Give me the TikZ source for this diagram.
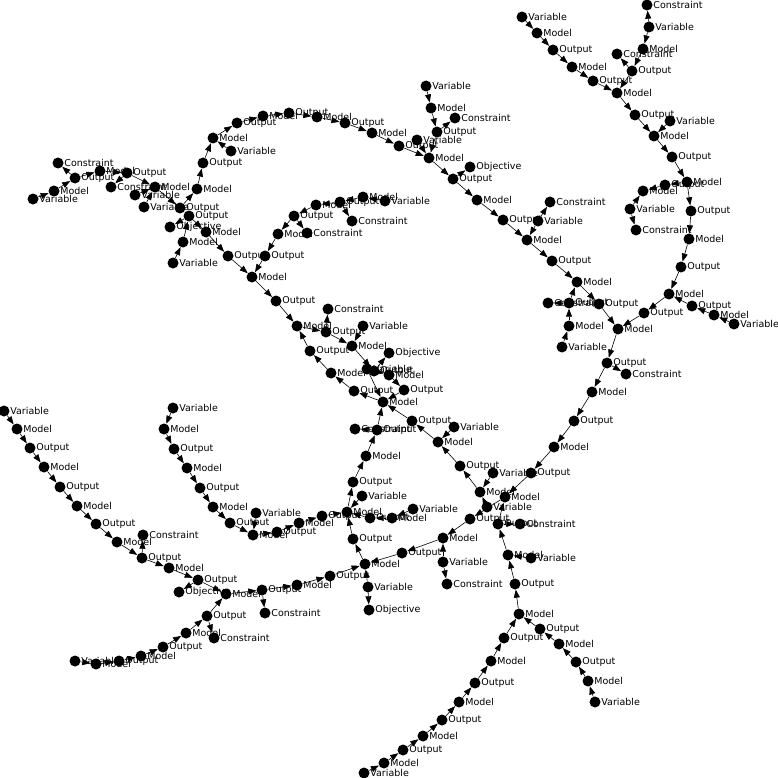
\documentclass[tikz,border=0pt]{standalone}
\usepackage{fontspec}
\newfontfamily\labelfont{DejaVu Sans}
\usetikzlibrary{arrows.meta}

\begin{document}
\begin{tikzpicture}[x=1pt, y=-1pt,
    >={Triangle[length=8pt, width=6pt]},
    vertex/.style={circle, fill=black, inner sep=0pt, minimum size=11pt},
    every label/.style={font=\labelfont\fontsize{9.5}{10}\selectfont, inner sep=0.5pt},
    modelpt/.style={vertex, label=right:Model},
    outputpt/.style={vertex, label=right:Output},
    variablept/.style={vertex, label=right:Variable},
    constraintpt/.style={vertex, label=right:Constraint},
    objectivept/.style={vertex, label=right:Objective}]
\useasboundingbox[fill=white] (0,0) rectangle (778,778);
\node[variablept] (a1) at (522,17) {};
\node[modelpt] (a2) at (537,33) {};
\node[outputpt] (a3) at (553,50) {};
\node[modelpt] (a4) at (572,67) {};
\node[outputpt] (a5) at (593,81) {};
\node[modelpt] (a6) at (617,93) {};
\node[outputpt] (a7) at (635,115) {};
\node[variablept] (a8) at (670,121) {};
\node[modelpt] (a9) at (654,136) {};
\node[outputpt] (a10) at (672,157) {};
\node[modelpt] (a11) at (687,182) {};
\node[outputpt] (a12) at (691,211) {};
\node[modelpt] (a13) at (689,239) {};
\node[constraintpt] (b1) at (647,5) {};
\node[variablept] (b2) at (649,27) {};
\node[modelpt] (b3) at (643,49) {};
\node[constraintpt] (b4) at (617,54) {};
\node[outputpt] (b5) at (632,71) {};
\node[modelpt] (c2) at (643,191) {};
\node[outputpt] (c1) at (665,185) {};
\node[variablept] (c3) at (630,209) {};
\node[constraintpt] (c4) at (636,230) {};
\node[variablept] (d1) at (426,86) {};
\node[modelpt] (d2) at (431,108) {};
\node[constraintpt] (d3) at (455,118) {};
\node[outputpt] (d4) at (437,132) {};
\node[outputpt] (d6) at (399,146) {};
\node[variablept] (d5) at (417,140) {};
\node[modelpt] (d7) at (429,158) {};
\node[objectivept] (d8) at (470,167) {};
\node[outputpt] (d9) at (453,179) {};
\node[modelpt] (d10) at (477,200) {};
\node[modelpt] (e1) at (372,133) {};
\node[outputpt] (e2) at (345,123) {};
\node[modelpt] (e3) at (317,117) {};
\node[outputpt] (e4) at (289,113) {};
\node[modelpt] (e5) at (263,116) {};
\node[outputpt] (e6) at (237,123) {};
\node[modelpt] (e7) at (213,138) {};
\node[variablept] (e8) at (231,151) {};
\node[outputpt] (e9) at (203,163) {};
\node[modelpt] (e10) at (197,189) {};
\node[constraintpt] (g1) at (58,163) {};
\node[outputpt] (g2) at (75,178) {};
\node[modelpt] (g3) at (100,171) {};
\node[outputpt] (g4) at (127,173) {};
\node[modelpt] (g5) at (54,191) {};
\node[variablept] (g6) at (33,199) {};
\node[constraintpt] (g7) at (111,187) {};
\node[modelpt] (g8) at (155,187) {};
\node[variablept] (g9) at (135,195) {};
\node[variablept] (g10) at (144,207) {};
\node[outputpt] (g11) at (180,208) {};
\node[outputpt] (g12) at (189,216) {};
\node[objectivept] (g13) at (170,227) {};
\node[modelpt] (g14) at (206,232) {};
\node[modelpt] (g15) at (183,242) {};
\node[variablept] (g16) at (173,263) {};
\node[modelpt] (f1) at (363,197) {};
\node[variablept] (f2) at (385,201) {};
\node[outputpt] (f3) at (340,202) {};
\node[constraintpt] (f4) at (352,221) {};
\node[modelpt] (f5) at (316,205) {};
\node[outputpt] (f6) at (294,216) {};
\node[constraintpt] (f7) at (307,233) {};
\node[modelpt] (f8) at (278,234) {};
\node[outputpt] (f9) at (265,256) {};
\node[outputpt] (f10) at (228,256) {};
\node[modelpt] (f11) at (252,277) {};
\node[outputpt] (i1) at (276,301) {};
\node[modelpt] (i2) at (297,326) {};
\node[constraintpt] (i3) at (328,309) {};
\node[outputpt] (i4) at (326,332) {};
\node[variablept] (i5) at (363,326) {};
\node[modelpt] (i6) at (352,346) {};
\node[outputpt] (i7) at (310,351) {};
\node[objectivept] (i8) at (389,353) {};
\node[modelpt] (i9) at (331,373) {};
\node[variablept] (x1) at (367,369) {};
\node[outputpt] (x2) at (374,371) {};
\node[modelpt] (j1) at (389,375) {};
\node[outputpt] (j2) at (404,390) {};
\node[outputpt] (i11) at (354,391) {};
\node[modelpt] (i12) at (383,402) {};
\node[outputpt] (i13) at (412,421) {};
\node[variablept] (i14) at (454,427) {};
\node[modelpt] (i15) at (438,442) {};
\node[outputpt] (i16) at (460,466) {};
\node[constraintpt] (i17c) at (355,429) {};
\node[outputpt] (i17) at (377,430) {};
\node[modelpt] (i18) at (366,456) {};
\node[outputpt] (k1) at (353,482) {};
\node[variablept] (k2) at (362,496) {};
\node[modelpt] (k3) at (347,512) {};
\node[outputpt] (k4) at (322,516) {};
\node[modelpt] (k5) at (299,523) {};
\node[outputpt] (k7) at (277,532) {};
\node[outputpt] (k10a) at (370,518) {};
\node[modelpt] (k10b) at (392,518) {};
\node[variablept] (k10v) at (413,509) {};
\node[outputpt] (k11) at (353,539) {};
\node[modelpt] (k12) at (365,564) {};
\node[variablept] (k13) at (368,587) {};
\node[objectivept] (k14) at (369,610) {};
\node[outputpt] (k15) at (330,576) {};
\node[modelpt] (k16) at (297,585) {};
\node[outputpt] (k17) at (262,590) {};
\node[constraintpt] (k19) at (265,613) {};
\node[outputpt] (k20) at (402,553) {};
\node[modelpt] (k21) at (443,538) {};
\node[variablept] (k22) at (443,562) {};
\node[constraintpt] (k23) at (447,584) {};
\node[outputpt] (m1) at (574,421) {};
\node[modelpt] (m2) at (554,447) {};
\node[variablept] (m4) at (493,473) {};
\node[outputpt] (m3) at (531,473) {};
\node[modelpt] (m5) at (480,492) {};
\node[modelpt] (m6) at (505,497) {};
\node[variablept] (m7) at (487,507) {};
\node[outputpt] (m8) at (470,519) {};
\node[outputpt] (m9) at (498,524) {};
\node[constraintpt] (m10) at (520,524) {};
\node[modelpt] (m11) at (508,555) {};
\node[variablept] (m12) at (531,558) {};
\node[outputpt] (m13) at (515,584) {};
\node[outputpt] (t1) at (503,220) {};
\node[variablept] (t2) at (538,221) {};
\node[constraintpt] (t3) at (550,202) {};
\node[modelpt] (t4) at (527,240) {};
\node[outputpt] (t5) at (552,261) {};
\node[modelpt] (t6) at (577,282) {};
\node[constraintpt] (t7) at (548,303) {};
\node[outputpt] (t8) at (569,303) {};
\node[outputpt] (t9) at (599,304) {};
\node[modelpt] (t10) at (569,326) {};
\node[variablept] (t11) at (562,347) {};
\node[modelpt] (t12) at (618,329) {};
\node[outputpt] (t13) at (607,363) {};
\node[constraintpt] (t14) at (626,374) {};
\node[modelpt] (v1) at (592,392) {};
\node[outputpt] (u0) at (681,267) {};
\node[modelpt] (u1) at (669,294) {};
\node[outputpt] (u2) at (644,313) {};
\node[outputpt] (u3) at (692,306) {};
\node[modelpt] (u4) at (714,315) {};
\node[variablept] (u5) at (734,324) {};
\node[modelpt] (q2) at (519,614) {};
\node[outputpt] (q3) at (540,629) {};
\node[modelpt] (q4) at (559,644) {};
\node[outputpt] (q5) at (576,662) {};
\node[modelpt] (q6) at (588,681) {};
\node[variablept] (q7) at (595,702) {};
\node[outputpt] (r1) at (504,638) {};
\node[modelpt] (r2) at (491,661) {};
\node[outputpt] (r3) at (475,683) {};
\node[modelpt] (r4) at (459,702) {};
\node[outputpt] (r5) at (442,720) {};
\node[modelpt] (r6) at (423,736) {};
\node[outputpt] (r7) at (403,750) {};
\node[modelpt] (r8) at (384,763) {};
\node[variablept] (r9) at (364,773) {};
\node[variablept] (n1) at (4,411) {};
\node[modelpt] (n2) at (17,429) {};
\node[outputpt] (n3) at (30,448) {};
\node[modelpt] (n4) at (44,467) {};
\node[outputpt] (n5) at (60,487) {};
\node[modelpt] (n6) at (77,506) {};
\node[outputpt] (n7) at (96,524) {};
\node[modelpt] (n8) at (117,542) {};
\node[constraintpt] (n9) at (143,535) {};
\node[outputpt] (n10) at (142,558) {};
\node[modelpt] (n11) at (169,568) {};
\node[objectivept] (n13) at (179,592) {};
\node[outputpt] (n12) at (198,580) {};
\node[modelpt] (n14) at (226,594) {};
\node[outputpt] (n15) at (207,616) {};
\node[constraintpt] (n16) at (214,638) {};
\node[modelpt] (n17) at (186,633) {};
\node[outputpt] (n18) at (163,647) {};
\node[modelpt] (n19) at (141,656) {};
\node[variablept] (n22) at (75,661) {};
\node[modelpt] (n21) at (96,664) {};
\node[outputpt] (n20) at (119,661) {};
\node[variablept] (p1) at (173,408) {};
\node[modelpt] (p2) at (164,429) {};
\node[outputpt] (p3) at (174,449) {};
\node[modelpt] (p4) at (187,468) {};
\node[outputpt] (p5) at (200,488) {};
\node[modelpt] (p6) at (213,507) {};
\node[outputpt] (p7) at (230,523) {};
\node[modelpt] (p8) at (253,535) {};
\node[variablept] (p9) at (256,513) {};
\path[->, line width=0.6pt]
(a1) edge (a2) (a2) edge (a3) (a3) edge (a4) (a4) edge (a5) (a5) edge (a6)
(a6) edge (a7) (a7) edge (a9) (a8) edge (a9) (a9) edge (a10) (a10) edge (a11)
(a11) edge (a12) (a12) edge (a13)
(b2) edge (b1) (b2) edge (b3) (b3) edge (b5) (b5) edge (b4) (b5) edge (a6)
(a11) edge (c1) (c1) edge (c2) (c3) edge (c2) (c3) edge (c4)
(d1) edge (d2) (d2) edge (d4) (d4) edge (d3) (d4) edge (d7) (d5) edge (d7) (d6) edge (d7)
(d7) edge (d9) (d9) edge (d8) (d9) edge (d10) (d10) edge (t1)
(e10) edge (e9) (e9) edge (e7) (e8) edge (e7) (e7) edge (e6) (e6) edge (e5) (e5) edge (e4)
(e4) edge (e3) (e3) edge (e2) (e2) edge (e1) (e1) edge (d6)
(g6) edge (g5) (g5) edge (g2) (g2) edge (g1) (g2) edge (g3) (g3) edge (g4) (g4) edge (g7)
(g4) edge (g8) (g9) edge (g8) (g10) edge (g8) (g8) edge (g11) (g11) edge (e10)
(g16) edge (g15) (g15) edge (g12) (g12) edge (g13) (g12) edge (g14) (g14) edge (f10)
(f2) edge (f1) (f1) edge (f3) (f3) edge (f4) (f3) edge (f5) (f5) edge (f6) (f6) edge (f7)
(f6) edge (f8) (f8) edge (f9) (f9) edge (f11) (f10) edge (f11) (f11) edge (i1)
(i1) edge (i2) (i2) edge (i4) (i4) edge (i3) (i4) edge (i6) (i5) edge (i6) (i6) edge (x2)
(x2) edge (i8) (x2) edge (j1) (j1) edge (j2) (j2) edge (i12) (x1) edge (i12)
(i13) edge (i12) (i17) edge (i12) (i12) edge (i11) (i11) edge (i9) (i9) edge (i7) (i7) edge (i2)
(i17) edge (i17c) (i18) edge (i17) (k1) edge (i18)
(i15) edge (i13) (i14) edge (i15) (i16) edge (i15) (m5) edge (i16)
(k3) edge (k1) (k2) edge (k3) (k4) edge (k3) (k5) edge (k4) (k7) edge (k5) (p8) edge (k7)
(k10v) edge (k10b) (k10b) edge (k10a) (k10a) edge (k3) (k11) edge (k3) (k12) edge (k11)
(k13) edge (k12) (k13) edge (k14) (k15) edge (k12) (k16) edge (k15) (k17) edge (k16)
(n14) edge (k17) (k17) edge (k19) (k20) edge (k12) (k21) edge (k20) (k22) edge (k21)
(k22) edge (k23) (m8) edge (k21)
(v1) edge (m1) (m1) edge (m2) (m2) edge (m3) (m3) edge (m6) (m6) edge (m8) (m4) edge (m5)
(m7) edge (m5) (m9) edge (m6) (m9) edge (m10) (m11) edge (m9) (m12) edge (m11) (m13) edge (m11)
(q2) edge (m13)
(t1) edge (t4) (t2) edge (t4) (t2) edge (t3) (t4) edge (t5) (t5) edge (t6) (t6) edge (t9)
(t8) edge (t6) (t8) edge (t7) (t10) edge (t8) (t11) edge (t10) (t9) edge (t12) (t12) edge (t13)
(t13) edge (t14) (t13) edge (v1)
(a13) edge (u0) (u0) edge (u1) (u1) edge (u2) (u2) edge (t12) (u3) edge (u1) (u4) edge (u3) (u5) edge (u4)
(r9) edge (r8) (r8) edge (r7) (r7) edge (r6) (r6) edge (r5) (r5) edge (r4) (r4) edge (r3)
(r3) edge (r2) (r2) edge (r1) (r1) edge (q2)
(q7) edge (q6) (q6) edge (q5) (q5) edge (q4) (q4) edge (q3) (q3) edge (q2)
(n1) edge (n2) (n2) edge (n3) (n3) edge (n4) (n4) edge (n5) (n5) edge (n6) (n6) edge (n7)
(n7) edge (n8) (n8) edge (n10) (n10) edge (n9) (n10) edge (n11) (n11) edge (n12)
(n12) edge (n13) (n12) edge (n14) (n15) edge (n14) (n15) edge (n16) (n17) edge (n15)
(n18) edge (n17) (n19) edge (n18) (n20) edge (n19) (n21) edge (n20) (n22) edge (n21)
(p1) edge (p2) (p2) edge (p3) (p3) edge (p4) (p4) edge (p5) (p5) edge (p6) (p6) edge (p7)
(p7) edge (p8) (p9) edge (p8)
;
\end{tikzpicture}
\end{document}
